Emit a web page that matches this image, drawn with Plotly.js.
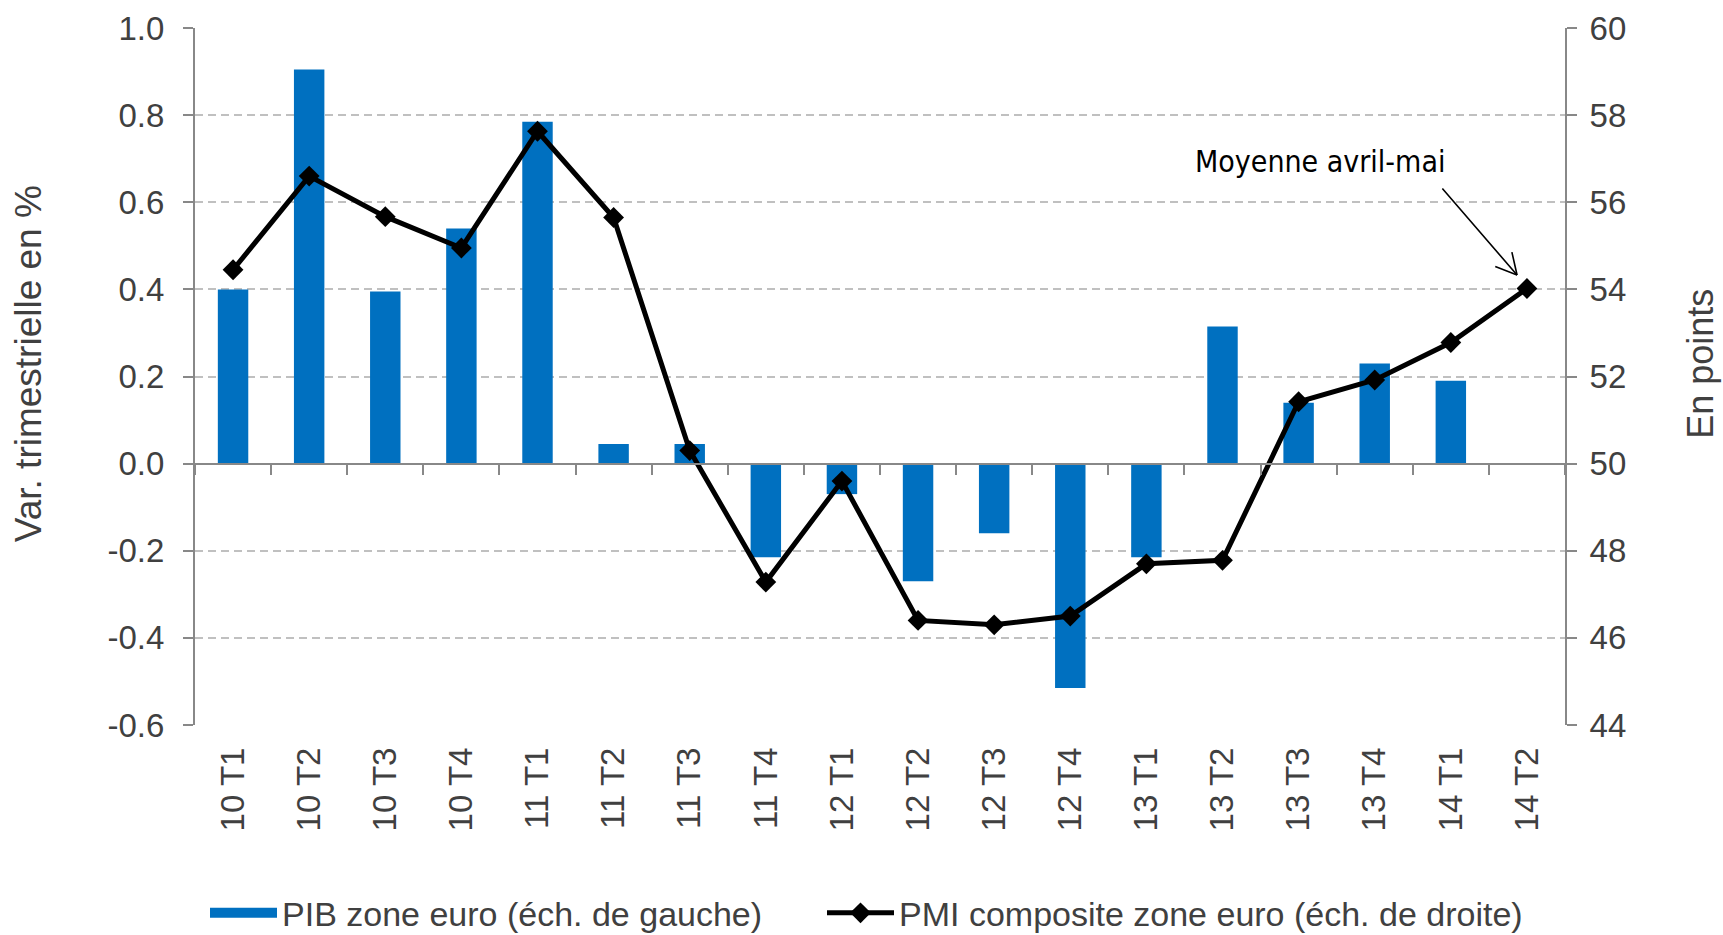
<!DOCTYPE html>
<html>
<head>
<meta charset="utf-8">
<script src="https://cdn.plot.ly/plotly-3.0.1.min.js"></script>
<style>
  html, body { margin: 0; padding: 0; background: #ffffff; }
  #chart { width: 1723px; height: 935px; }
</style>
</head>
<body>
<div id="chart"></div>
<script>
// ---- Data ----
const categories = ['10 T1','10 T2','10 T3','10 T4','11 T1','11 T2','11 T3','11 T4','12 T1','12 T2','12 T3','12 T4','13 T1','13 T2','13 T3','13 T4','14 T1','14 T2'];
const pibZoneEuro = [0.40, 0.905, 0.395, 0.54, 0.785, 0.045, 0.045, -0.215, -0.07, -0.27, -0.16, -0.515, -0.215, 0.315, 0.14, 0.23, 0.19, null];
const pmiComposite = [54.45, 56.6, 55.67, 54.95, 57.63, 55.65, 50.3, 47.28, 49.6, 46.4, 46.3, 46.5, 47.7, 47.78, 51.42, 51.92, 52.78, 54.02];
const leftTickVals = [-0.6, -0.4, -0.2, 0.0, 0.2, 0.4, 0.6, 0.8, 1.0];
const leftTickText = ['-0.6', '-0.4', '-0.2', '0.0', '0.2', '0.4', '0.6', '0.8', '1.0'];
const rightTickVals = [44, 46, 48, 50, 52, 54, 56, 58, 60];
const seriesNames = ['PIB zone euro (éch. de gauche)', 'PMI composite zone euro (éch. de droite)'];
const axisTitles = ['Var. trimestrielle en %', 'En points'];
const annotationText = 'Moyenne avril-mai';

const textColor = '#404040';
const axisColor = '#888888';
const barColor = '#0070C0';
const fontFamily = 'Liberation Sans, Arial, sans-serif';

const traces = [
  {
    type: 'bar',
    x: categories,
    y: pibZoneEuro,
    name: seriesNames[0],
    showlegend: false,
    legendgroup: 'pib',
    marker: { color: barColor, line: { width: 0 } },
    width: 0.4,
    xaxis: 'x',
    yaxis: 'y',
    hoverinfo: 'x+y'
  },
  {
    // legend swatch for the bar series (wide rectangle, as in the original)
    type: 'scatter',
    mode: 'lines',
    x: categories,
    y: categories.map(() => null),
    name: seriesNames[0],
    legendgroup: 'pib',
    legendwidth: 535,
    line: { color: barColor, width: 19 },
    xaxis: 'x',
    yaxis: 'y',
    hoverinfo: 'skip'
  },
  {
    type: 'scatter',
    mode: 'lines+markers',
    x: categories,
    y: pmiComposite,
    name: seriesNames[1],
    line: { color: '#000000', width: 5 },
    marker: { symbol: 'diamond', size: 16, color: '#000000' },
    xaxis: 'x',
    yaxis: 'y2',
    hoverinfo: 'x+y'
  },
  {
    // invisible helper so that the zero-line axis (ticks at y=0) is drawn
    type: 'scatter',
    mode: 'markers',
    x: categories,
    y: categories.map(() => null),
    xaxis: 'x2',
    yaxis: 'y',
    showlegend: false,
    hoverinfo: 'skip',
    marker: { opacity: 0 }
  }
];

// arrow (open V head) of the "Moyenne avril-mai" callout, in pixel offsets from its tip
const arrowTip = { x: 16.87, y: 54.33 };
const arrowSegments = [
  { ax: -76, ay: -88 },
  { ax: -23.3, ay: -9.0 },
  { ax: -5.5, ay: -24.4 }
];

const layout = {
  width: 1723,
  height: 935,
  paper_bgcolor: '#ffffff',
  plot_bgcolor: '#ffffff',
  font: { family: fontFamily, size: 33, color: textColor },
  margin: { l: 194.5, r: 158, t: 27.5, b: 209.7, pad: 0, autoexpand: false },
  showlegend: true,
  legend: {
    orientation: 'h',
    x: 0.0073,
    xanchor: 'left',
    y: -0.27,
    yanchor: 'middle',
    itemwidth: 67,
    font: { family: fontFamily, size: 34, color: textColor },
    traceorder: 'normal',
    bgcolor: 'rgba(0,0,0,0)'
  },
  xaxis: {
    type: 'category',
    categoryorder: 'array',
    categoryarray: categories,
    range: [-0.5, 17.5],
    showline: false,
    showgrid: false,
    zeroline: false,
    ticks: '',
    tickangle: -90,
    ticklabelstandoff: 15,
    tickfont: { family: fontFamily, size: 33, color: textColor },
    fixedrange: true
  },
  xaxis2: {
    type: 'category',
    categoryorder: 'array',
    categoryarray: categories,
    range: [-0.5, 17.5],
    overlaying: 'x',
    anchor: 'free',
    position: 0.375,
    showline: true,
    linecolor: axisColor,
    linewidth: 2.5,
    ticks: 'outside',
    tickson: 'boundaries',
    ticklen: 10,
    tickwidth: 2,
    tickcolor: axisColor,
    showticklabels: false,
    showgrid: false,
    zeroline: false,
    fixedrange: true
  },
  yaxis: {
    range: [-0.6, 1.0],
    tickvals: leftTickVals,
    ticktext: leftTickText,
    showline: true,
    linecolor: axisColor,
    linewidth: 2,
    ticks: 'outside',
    ticklen: 10,
    tickwidth: 2,
    tickcolor: axisColor,
    ticklabelstandoff: 12,
    showgrid: true,
    gridcolor: '#C0C0C0',
    gridwidth: 2,
    griddash: '8px,5px',
    zeroline: false,
    tickfont: { family: fontFamily, size: 33, color: textColor },
    fixedrange: true
  },
  yaxis2: {
    range: [44, 60],
    tickvals: rightTickVals,
    overlaying: 'y',
    side: 'right',
    showline: true,
    linecolor: axisColor,
    linewidth: 2,
    ticks: 'outside',
    ticklen: 10,
    tickwidth: 2,
    tickcolor: axisColor,
    ticklabelstandoff: 6,
    showgrid: false,
    zeroline: false,
    tickfont: { family: fontFamily, size: 33, color: textColor },
    fixedrange: true
  },
  annotations: [
    {
      // left axis title
      text: axisTitles[0],
      xref: 'paper', yref: 'paper',
      x: -0.1219, y: 0.519,
      xanchor: 'center', yanchor: 'middle',
      textangle: -90,
      showarrow: false,
      font: { family: fontFamily, size: 37, color: textColor }
    },
    {
      // right axis title
      text: axisTitles[1],
      xref: 'paper', yref: 'paper',
      x: 1.0992, y: 0.518,
      xanchor: 'center', yanchor: 'middle',
      textangle: -90,
      showarrow: false,
      font: { family: fontFamily, size: 36, color: textColor }
    },
    {
      text: annotationText,
      xref: 'x', yref: 'y2',
      x: 14.28, y: 56.93,
      showarrow: false,
      xanchor: 'center', yanchor: 'middle',
      font: { family: 'DejaVu Sans Condensed, DejaVu Sans, sans-serif', size: 30, color: '#000000' }
    }
  ].concat(arrowSegments.map(s => ({
    text: '',
    xref: 'x', yref: 'y2',
    x: arrowTip.x, y: arrowTip.y,
    ax: s.ax, ay: s.ay,
    showarrow: true,
    arrowhead: 0,
    arrowwidth: 1.6,
    arrowcolor: '#000000',
    standoff: 0,
    startstandoff: 0
  })))
};

Plotly.newPlot('chart', traces, layout, { displayModeBar: false, staticPlot: true });
</script>
</body>
</html>
